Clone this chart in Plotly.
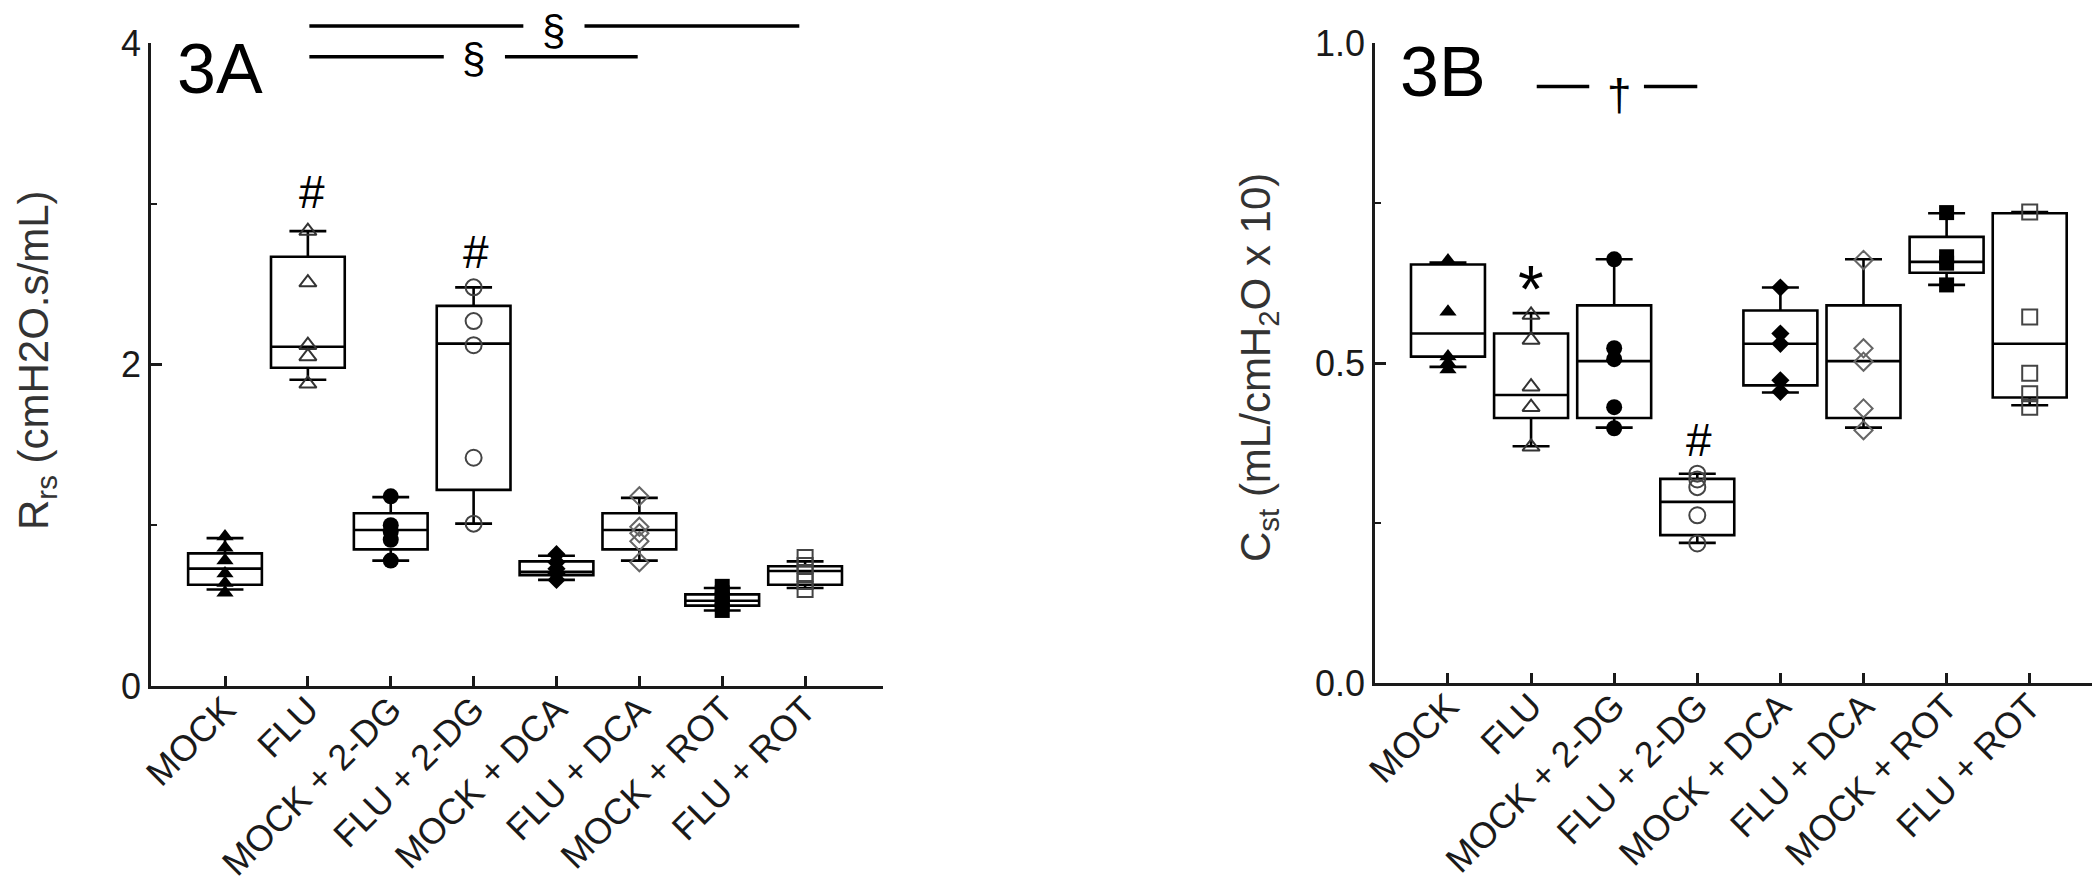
import plotly.graph_objects as go

# ---------------- data ----------------
categories = ["MOCK", "FLU", "MOCK + 2-DG", "FLU + 2-DG",
              "MOCK + DCA", "FLU + DCA", "MOCK + ROT", "FLU + ROT"]

# Panel 3A : Rrs (cmH2O.s/mL) box statistics
rrs_q1 = [0.63, 1.98, 0.85, 1.22, 0.69, 0.85, 0.50, 0.63]
rrs_median = [0.73, 2.11, 0.97, 2.13, 0.71, 0.97, 0.53, 0.715]
rrs_q3 = [0.825, 2.67, 1.075, 2.365, 0.775, 1.075, 0.57, 0.745]
rrs_low = [0.60, 1.905, 0.78, 1.01, 0.66, 0.78, 0.47, 0.61]
rrs_high = [0.92, 2.83, 1.175, 2.48, 0.81, 1.17, 0.61, 0.775]

rrs_mock = [0.93, 0.86, 0.78, 0.70, 0.64, 0.58]
rrs_flu = [2.83, 2.51, 2.12, 2.05, 1.88]
rrs_mock_2dg = [1.18, 1.00, 0.96, 0.91, 0.78]
rrs_flu_2dg = [2.48, 2.27, 2.12, 1.42, 1.01]
rrs_mock_dca = [0.82, 0.77, 0.73, 0.70, 0.66]
rrs_flu_dca = [1.18, 0.99, 0.95, 0.90, 0.77]
rrs_mock_rot = [0.62, 0.58, 0.54, 0.51, 0.47]
rrs_flu_rot = [0.80, 0.75, 0.70, 0.65, 0.60]

# Panel 3B : Cst (mL/cmH2O x 10) box statistics
cst_q1 = [0.51, 0.414, 0.414, 0.231, 0.465, 0.414, 0.641, 0.446]
cst_median = [0.546, 0.45, 0.503, 0.283, 0.53, 0.503, 0.658, 0.53]
cst_q3 = [0.654, 0.546, 0.59, 0.319, 0.582, 0.59, 0.697, 0.734]
cst_low = [0.494, 0.37, 0.399, 0.219, 0.454, 0.399, 0.622, 0.434]
cst_high = [0.657, 0.578, 0.662, 0.327, 0.618, 0.662, 0.734, 0.736]

cst_mock = [0.66, 0.58, 0.51, 0.50, 0.49]
cst_flu = [0.575, 0.536, 0.463, 0.431, 0.369]
cst_mock_2dg = [0.662, 0.523, 0.506, 0.431, 0.398]
cst_flu_2dg = [0.327, 0.318, 0.306, 0.262, 0.218]
cst_mock_dca = [0.618, 0.546, 0.530, 0.473, 0.455]
cst_flu_dca = [0.661, 0.523, 0.502, 0.429, 0.395]
cst_mock_rot = [0.735, 0.666, 0.656, 0.622]
cst_flu_rot = [0.736, 0.572, 0.484, 0.452, 0.431]

rrs_points = [rrs_mock, rrs_flu, rrs_mock_2dg, rrs_flu_2dg,
              rrs_mock_dca, rrs_flu_dca, rrs_mock_rot, rrs_flu_rot]
cst_points = [cst_mock, cst_flu, cst_mock_2dg, cst_flu_2dg,
              cst_mock_dca, cst_flu_dca, cst_mock_rot, cst_flu_rot]

# ---------------- styling ----------------
W, H = 2100, 885
FONT = "Liberation Sans, Arial, sans-serif"
INK = "#1a1a1a"
symbols = ["triangle-up", "triangle-up-open", "circle", "circle-open",
           "diamond", "diamond-open", "square", "square-open"]
sizes = [15, 15, 16, 16, 14, 14, 15, 15]
open_colors = {1: "#333333", 3: "#444444", 5: "#666666", 7: "#444444"}

ya_dom = [207 / H, 850 / H]
yb_dom = [210 / H, 850 / H]
ya_range = [0, 4]
yb_range = [0, 1]

fig = go.Figure()
pos = list(range(len(categories)))

for xa, ya, q1, med, q3, lo, hi, pts in [
    ("x", "y", rrs_q1, rrs_median, rrs_q3, rrs_low, rrs_high, rrs_points),
    ("x2", "y2", cst_q1, cst_median, cst_q3, cst_low, cst_high, cst_points),
]:
    fig.add_trace(go.Box(
        x=pos, q1=q1, median=med, q3=q3, lowerfence=lo, upperfence=hi,
        xaxis=xa, yaxis=ya, width=0.89, whiskerwidth=0.5,
        fillcolor="rgba(0,0,0,0)", line=dict(color="black", width=2.6),
        boxpoints=False, showlegend=False, hoverinfo="skip"))
    for i, vals in enumerate(pts):
        is_open = symbols[i].endswith("open")
        fig.add_trace(go.Scatter(
            x=[i] * len(vals), y=vals, mode="markers", xaxis=xa, yaxis=ya,
            showlegend=False, cliponaxis=False,
            marker=dict(symbol=symbols[i], size=sizes[i],
                        color=open_colors.get(i, "black"),
                        line=dict(width=2 if is_open else 0,
                                  color=open_colors.get(i, "black")))))

axis_common = dict(showgrid=False, zeroline=False, showline=True,
                   automargin=False,
                   linecolor=INK, linewidth=2.5, ticks="inside",
                   tickcolor=INK, tickwidth=2.5,
                   tickfont=dict(family=FONT, size=36, color=INK))

fig.update_layout(
    width=W, height=H,
    margin=dict(l=0, r=0, t=0, b=0, autoexpand=False),
    paper_bgcolor="white", plot_bgcolor="white",
    font=dict(family=FONT, color=INK),
    xaxis=dict(domain=[143 / W, 875 / W], range=[-0.893, 7.94],
               tickmode="array", tickvals=pos, ticktext=categories,
               tickangle=-45, ticklen=10, anchor="y",
               ticklabelstandoff=-15, **axis_common),
    yaxis=dict(domain=ya_dom, range=ya_range,
               tickmode="array", tickvals=[0, 2, 4], ticktext=["0", "2", "4"],
               ticklen=11, anchor="x",
               minor=dict(tickmode="array", tickvals=[1, 3], ticks="inside",
                          ticklen=6, tickwidth=2, tickcolor=INK),
               **axis_common),
    xaxis2=dict(domain=[1367 / W, 2099 / W], range=[-0.878, 7.93],
                tickmode="array", tickvals=pos, ticktext=categories,
                tickangle=-45, ticklen=10, anchor="y2",
                ticklabelstandoff=-15, **axis_common),
    yaxis2=dict(domain=yb_dom, range=yb_range,
                tickmode="array", tickvals=[0, 0.5, 1.0],
                ticktext=["0.0", "0.5", "1.0"], ticklen=11, anchor="x2",
                minor=dict(tickmode="array", tickvals=[0.25, 0.75],
                           ticks="inside", ticklen=6, tickwidth=2,
                           tickcolor=INK),
                **axis_common),
)

# pixels per data unit on panel A's y axis (for marks above the axis top)
pxA = (ya_dom[1] - ya_dom[0]) * H / (ya_range[1] - ya_range[0])

ann = []


def label(text, x, y, xr, yr, size, **kw):
    ann.append(dict(text=text, x=x, y=y, xref=xr, yref=yr, showarrow=False,
                    font=dict(family=FONT, size=size, color="black"), **kw))


def seg(x0, x1, y, xr, yr, yshift=0):
    ann.append(dict(text="", x=x1, y=y, ax=x0, ay=y, xref=xr, yref=yr,
                    axref=xr, ayref=yr, showarrow=True, arrowhead=0,
                    arrowwidth=3.5, arrowcolor="black", standoff=0,
                    startstandoff=0, yshift=yshift))


# panel letters
label("3A", -0.60, 3.84, "x", "y", 70, xanchor="left", yanchor="middle")
label("3B", -0.60, 0.955, "x2", "y2", 70, xanchor="left", yanchor="middle")

# axis titles
label("R<sub>rs</sub> (cmH2O.s/mL)", 28 / W, 1 - 352 / H, "paper", "paper",
      42, textangle=-90, xanchor="center", yanchor="middle")
ann[-1]["font"]["color"] = "#333333"
label("C<sub>st</sub> (mL/cmH<sub>2</sub>O x 10)", 1250 / W, 1 - 360 / H,
      "paper", "paper", 42, textangle=-90, xanchor="center", yanchor="middle")
ann[-1]["font"]["color"] = "#333333"

# significance marks, panel A
label("#", 1.05, 3.07, "x", "y", 46)
label("#", 3.03, 2.70, "x", "y", 46)
top = ya_range[1]
sh1 = (4.105 - top) * pxA
seg(1.0, 3.60, top, "x", "y", yshift=sh1)
seg(4.32, 6.93, top, "x", "y", yshift=sh1)
label("§", 3.96, top, "x", "y", 42, yshift=sh1 - 4)
seg(1.0, 2.64, 3.915, "x", "y")
seg(3.36, 4.98, 3.915, "x", "y")
label("§", 3.0, 3.905, "x", "y", 42)

# significance marks, panel B
label("*", 1.0, 0.615, "x2", "y2", 66)
label("#", 3.02, 0.379, "x2", "y2", 46)
seg(1.05, 1.70, 0.932, "x2", "y2")
seg(2.34, 3.0, 0.932, "x2", "y2")
label("†", 2.06, 0.92, "x2", "y2", 44)

fig.update_layout(annotations=ann)

fig.write_html("out.html")
